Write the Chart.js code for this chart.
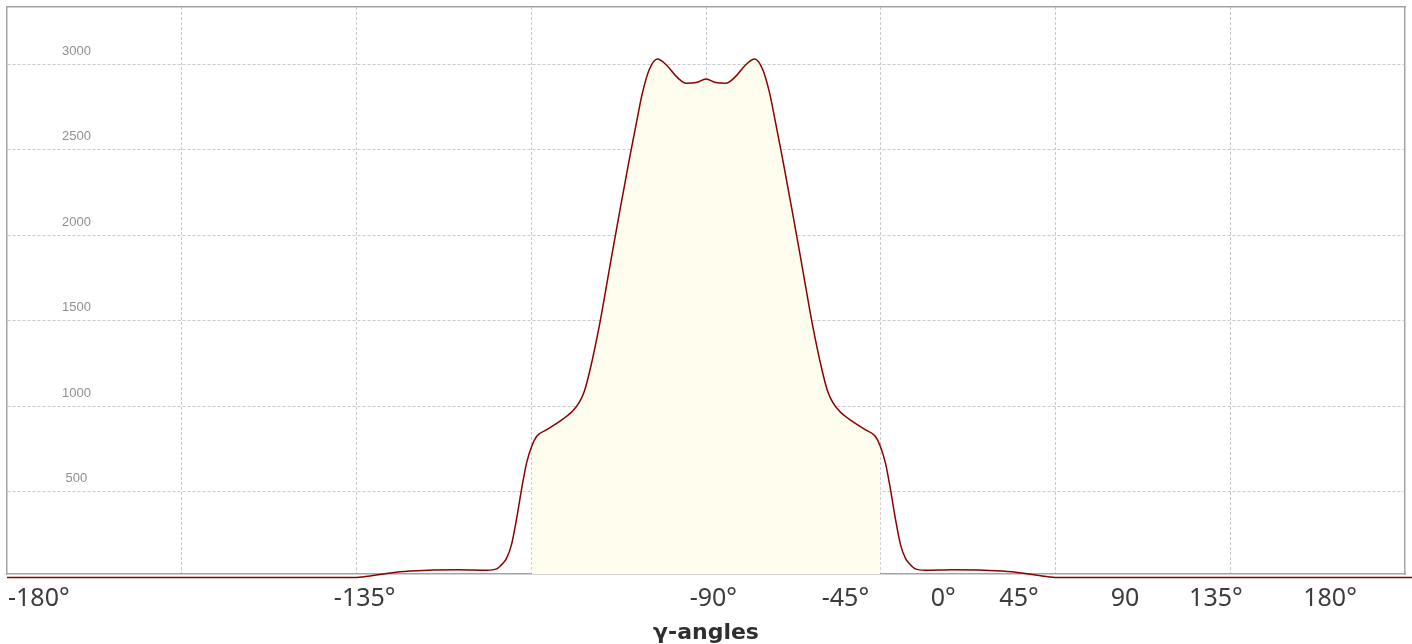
<!DOCTYPE html>
<html>
<head>
<meta charset="utf-8">
<script src="https://cdn.jsdelivr.net/npm/chart.js@4.4.1/dist/chart.umd.min.js"></script>
<style>
html,body{margin:0;padding:0;background:#fff;overflow:hidden}
canvas{display:block}
</style>
</head>
<body>
<canvas id="c" width="1412" height="644"></canvas>
<script>
// curve sample positions (grid axis units) and density values
const angles = [-180, -90, -85.3, -80.7, -76.3, -70.4, -63.5, -56.5, -53.9, -52.4, -51.4, -50.1, -48.8, -47.5, -46.2, -44.9,
  -43.6, -41.0, -37.7, -34.4, -32.6, -31.3, -29.8, -27.4, -24.9, -22.3, -19.7, -17.9, -16.4, -14.6, -12.5, -10.2, -7.6, -5.1, -2.5,
  0, 2.5, 5.1, 7.6, 10.2, 12.5, 14.6, 16.4, 17.9, 19.7, 22.3, 24.9, 27.4, 29.8, 31.3, 32.6, 34.4, 37.7, 41.0, 43.6, 44.9,
  46.2, 47.5, 48.8, 50.1, 51.4, 52.4, 53.9, 56.5, 63.5, 70.4, 76.3, 80.7, 85.3, 90, 182];
const density = [0, 0, 12, 28, 37, 44, 45, 42, 50, 80, 110, 190, 340, 515, 670, 766,
  825, 864, 912, 971, 1025, 1090, 1220, 1480, 1800, 2130, 2450, 2660, 2830, 2970, 3031, 2996, 2928, 2889, 2893,
  2914, 2893, 2889, 2928, 2996, 3031, 2970, 2830, 2660, 2450, 2130, 1800, 1480, 1220, 1090, 1025, 971, 912, 864, 825, 766,
  670, 515, 340, 190, 110, 80, 50, 42, 45, 44, 37, 28, 12, 0, 0];
const fillRange = [-45, 45];
const gridAngles = [-135, -90, -45, 0, 45, 90, 135];
const yTicks = [500, 1000, 1500, 2000, 2500, 3000];
const xTickLabels = ['-180°', '-135°', '-90°', '-45°', '0°', '45°', '90', '135°', '180°'];
const xTickPositions = [-171.8, -87.9, 1.9, 35.9, 61.1, 80.6, 107.9, 131.3, 160.7];
const xTitle = 'γ-angles';

const linePts = angles.map((a, i) => ({x: a, y: density[i]}));
const fillPts = linePts.filter(p => p.x >= fillRange[0] && p.x <= fillRange[1]);

const BORDER = '#a3a3a3';
const GRID = '#c9c9c9';
const noPad = s => { s.paddingLeft = 0; s.paddingRight = 0; s.paddingTop = 0; s.paddingBottom = 0; };

new Chart(document.getElementById('c'), {
  type: 'line',
  data: {
    datasets: [
      {label: 'density', data: linePts, borderColor: '#8b0000', borderWidth: 1.5, pointRadius: 0,
       fill: false, cubicInterpolationMode: 'monotone', clip: false, order: 0},
      {label: 'area', data: fillPts, borderColor: 'rgba(0,0,0,0)', borderWidth: 0, backgroundColor: '#fffdee',
       fill: 'origin', pointRadius: 0, cubicInterpolationMode: 'monotone', order: 1}
    ]
  },
  options: {
    responsive: false,
    animation: false,
    devicePixelRatio: 1,
    layout: {padding: {left: 7, top: 7, right: 7, bottom: 0}},
    plugins: {legend: {display: false}, tooltip: {enabled: false}},
    scales: {
      x: {
        type: 'linear', position: 'bottom', min: -180, max: 180,
        afterBuildTicks: a => { a.ticks = gridAngles.map(v => ({value: v})); },
        afterFit: noPad,
        ticks: {display: false},
        grid: {color: GRID, lineWidth: 1, drawTicks: false},
        border: {display: true, color: BORDER, width: 1.5, dash: [3, 2]}
      },
      xLab: {
        type: 'linear', position: 'bottom', weight: 1, min: -180, max: 180,
        afterBuildTicks: a => { a.ticks = xTickPositions.map(v => ({value: v})); },
        afterFit: noPad,
        ticks: {autoSkip: false, maxRotation: 0, padding: 10, color: '#3c3c3c',
                font: {family: 'Noto Sans', size: 25},
                callback: (v, i) => xTickLabels[i]},
        grid: {display: false, drawTicks: false},
        border: {display: false},
        title: {display: true, text: xTitle, color: '#2e2e2e', padding: {top: -2, bottom: 0},
                font: {family: 'DejaVu Sans', size: 22, weight: 'bold', lineHeight: 1}}
      },
      xTop: {
        type: 'linear', position: 'top', min: -180, max: 180,
        afterFit: noPad,
        ticks: {display: false}, grid: {display: false, drawTicks: false},
        border: {display: true, color: BORDER, width: 1.5}
      },
      y: {
        type: 'linear', position: 'left', min: 20, max: 3335,
        afterBuildTicks: a => { a.ticks = yTicks.map(v => ({value: v})); },
        afterFit: s => { s.width = 0; noPad(s); },
        ticks: {mirror: true, crossAlign: 'center', padding: 55, labelOffset: -13,
                color: '#8f8f8f', font: {family: 'Liberation Sans', size: 13},
                callback: v => String(v)},
        grid: {color: GRID, lineWidth: 1, drawTicks: false},
        border: {display: true, color: BORDER, width: 1.5, dash: [3, 2]}
      },
      yRight: {
        type: 'linear', position: 'right', min: 0, max: 1,
        afterFit: s => { s.width = 0; noPad(s); },
        ticks: {display: false}, grid: {display: false, drawTicks: false},
        border: {display: true, color: BORDER, width: 1.5}
      }
    }
  }
});
</script>
</body>
</html>
